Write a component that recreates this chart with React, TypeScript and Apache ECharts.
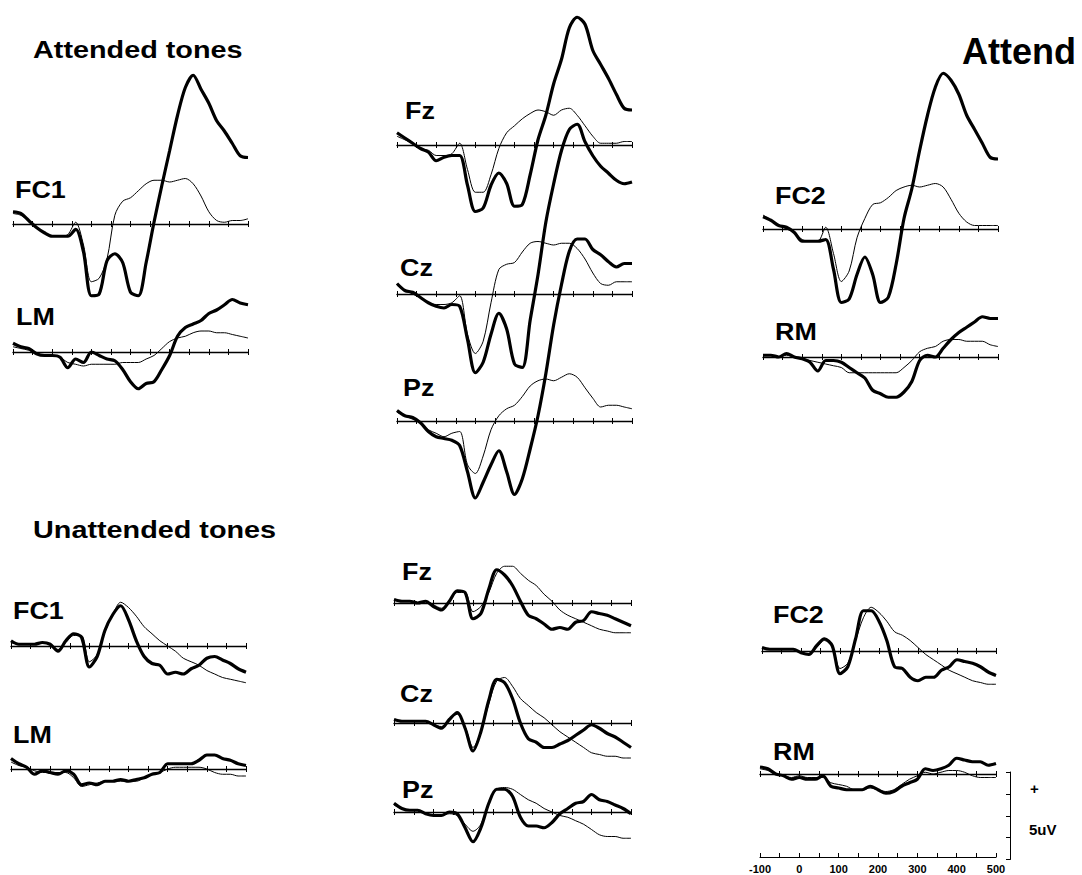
import React, { useEffect, useRef } from "react";
import * as echarts from "echarts";

// ---------- data (amplitudes in µV, positive up; time in ms) ----------
const TIMES = [-100, -80, -60, -40, -20, 0, 20, 40, 60, 80, 100, 120, 140, 160, 180, 200, 220, 240, 260, 280, 300, 320, 340, 360, 380, 400, 420, 440, 460, 480, 500];
const TIME_TICK_LABELS = ["-100", "0", "100", "200", "300", "400", "500"];
const CHANNELS_ATTENDED = ["FC1", "LM", "Fz", "Cz", "Pz", "FC2", "RM"];
const CHANNELS_UNATTENDED = ["FC1", "LM", "Fz", "Cz", "Pz", "FC2", "RM"];
const TITLE_ATTENDED = "Attended tones";
const TITLE_UNATTENDED = "Unattended tones";
const TITLE_RIGHT = "Attend";
const SCALE_PLUS = "+";
const SCALE_LABEL = "5uV";
const SCALE_UV = 5;

// Attended tones
const attFC1Thick = [0.7, 0.6, 0.2, -0.2, -0.5, -0.7, -0.7, -0.7, -0.3, -1.6, -4.1, -4.0, -2.1, -1.7, -2.2, -3.9, -4.1, -2.2, 0.1, 2.2, 4.2, 6.2, 7.8, 8.5, 7.7, 6.9, 5.9, 5.3, 4.6, 3.9, 3.8];
const attFC1Thin = [0.6, 0.5, 0.2, -0.2, -0.5, -0.7, -0.7, -0.6, 0.1, -1.2, -3.3, -3.1, -2.0, 0.5, 1.3, 1.5, 1.9, 2.3, 2.5, 2.5, 2.4, 2.5, 2.6, 2.3, 1.6, 0.7, 0.2, 0.1, 0.2, 0.2, 0.3];
const attLMThick = [0.5, 0.3, 0.2, -0.1, -0.2, -0.2, -0.3, -0.9, -0.4, -0.6, 0, -0.2, -0.4, -0.5, -1.0, -1.7, -2.1, -1.8, -1.7, -1.0, -0.2, 0.9, 1.4, 1.6, 1.8, 2.2, 2.4, 2.7, 3.0, 2.8, 2.7];
const attLMThin = [0.3, 0.2, 0.1, -0.1, -0.2, -0.2, -0.3, -0.6, -0.7, -0.8, -0.7, -0.7, -0.7, -0.7, -0.6, -0.6, -0.6, -0.4, -0.2, 0.2, 0.6, 0.8, 0.9, 1.1, 1.2, 1.2, 1.1, 1.1, 1.0, 0.9, 0.8];
const attFzThick = [0.7, 0.4, 0.1, -0.2, -0.4, -0.9, -0.7, -0.6, -0.6, -2.3, -3.8, -3.6, -2.3, -1.6, -2.2, -3.5, -3.4, -1.7, 0.3, 1.7, 3.5, 4.9, 6.7, 7.3, 6.9, 5.4, 4.6, 3.8, 2.9, 2.1, 2.0];
const attFzThin = [0.5, 0.3, 0.1, -0.2, -0.3, -0.6, -0.6, -0.5, 0.1, -1.4, -2.7, -2.7, -1.7, -0.2, 0.7, 1.1, 1.5, 1.8, 2.0, 1.9, 1.7, 2.0, 2.1, 1.7, 1.1, 0.5, 0.1, 0.1, 0.1, 0.2, 0.2];
const attCzThick = [0.6, 0.2, 0.1, -0.2, -0.5, -0.7, -0.8, -0.6, -0.7, -2.6, -4.5, -3.9, -2.3, -1.1, -2.0, -4.0, -4.2, -1.5, 1.1, 4.1, 6.3, 8.2, 9.4, 9.7, 8.7, 7.9, 7.3, 6.9, 6.5, 6.3, 6.4];
const attCzThin = [0.5, 0.2, 0, -0.2, -0.5, -0.6, -0.6, -0.5, -0.1, -2.3, -3.4, -2.7, -0.5, 1.4, 1.7, 1.8, 2.4, 2.9, 3.0, 2.9, 2.8, 2.9, 2.9, 2.6, 2.0, 1.2, 0.6, 0.5, 0.7, 0.7, 0.7];
const attPzThick = [0.6, 0.3, 0.2, -0.1, -0.6, -0.9, -1.0, -1.1, -1.4, -2.9, -4.4, -3.5, -2.5, -1.7, -2.9, -4.2, -3.3, -1.6, 0.3, 2.7, 5.5, 7.8, 9.7, 10.4, 10.4, 9.8, 9.5, 9.1, 8.8, 9.0, 9.0];
const attPzThin = [0.5, 0.3, 0.1, -0.1, -0.5, -0.7, -0.9, -0.7, -0.6, -2.5, -3.0, -2.0, -0.5, 0.3, 0.7, 0.9, 1.4, 2.0, 2.3, 2.4, 2.3, 2.5, 2.7, 2.5, 1.9, 1.3, 0.8, 0.9, 0.9, 0.8, 0.7];
const attFC2Thick = [0.7, 0.5, 0.2, 0.1, -0.2, -0.7, -0.7, -0.7, -0.6, -2.3, -4.2, -4.0, -2.6, -1.6, -2.6, -4.2, -3.9, -2.0, 0.6, 2.3, 4.5, 6.5, 8.1, 8.9, 8.5, 7.7, 6.5, 5.7, 4.9, 4.1, 4.0];
const attFC2Thin = [0.8, 0.5, 0.2, 0, -0.2, -0.6, -0.7, -0.7, 0.1, -1.4, -3.0, -2.4, -0.5, 0.6, 1.4, 1.5, 1.8, 2.2, 2.4, 2.5, 2.4, 2.5, 2.6, 2.4, 1.7, 0.9, 0.4, 0.2, 0.2, 0.2, 0.2];
const attRMThick = [0.1, 0.1, 0, 0.2, 0, -0.1, -0.3, -0.8, -0.2, -0.2, -0.3, -0.6, -0.9, -1.2, -1.9, -2.1, -2.3, -2.3, -2.0, -1.4, -0.2, 0.1, 0, 0.5, 1.0, 1.4, 1.7, 2.0, 2.3, 2.2, 2.2];
const attRMThin = [0.1, 0.1, 0, 0.1, 0, -0.1, -0.2, -0.3, -0.4, -0.5, -0.6, -0.9, -0.9, -0.9, -0.9, -0.9, -0.9, -0.9, -0.6, -0.2, 0.3, 0.5, 0.6, 0.9, 1.0, 1.0, 0.9, 0.9, 0.9, 0.7, 0.6];

// Unattended tones
const unFC1Thick = [0.3, 0.1, 0.1, 0.1, 0.2, 0.1, -0.3, 0.3, 0.7, 0.5, -1.2, -0.6, 0.9, 1.8, 2.3, 1.5, 0.3, -0.6, -1.0, -1.1, -1.6, -1.5, -1.6, -1.3, -1.1, -0.7, -0.6, -0.8, -1.0, -1.3, -1.5];
const unFC1Thin = [0.2, 0.1, 0.1, 0.1, 0.2, 0.1, -0.2, 0.2, 0.6, 0.6, -0.9, -0.5, 0.8, 1.8, 2.5, 2.2, 1.7, 1.1, 0.7, 0.3, 0, -0.3, -0.7, -0.9, -1.1, -1.4, -1.6, -1.8, -1.9, -2.0, -2.1];
const unLMThick = [0.6, 0.3, 0.1, -0.3, -0.1, -0.2, -0.3, -0.1, -0.3, -0.9, -0.8, -0.9, -0.7, -0.7, -0.6, -0.7, -0.6, -0.5, -0.3, -0.2, 0.3, 0.3, 0.3, 0.3, 0.5, 0.8, 0.8, 0.6, 0.5, 0.3, 0.2];
const unLMThin = [0.4, 0.2, 0.1, -0.1, -0.2, -0.2, -0.2, -0.2, -0.5, -1.0, -0.9, -0.8, -0.7, -0.7, -0.7, -0.7, -0.7, -0.5, -0.3, -0.2, 0, 0.1, 0.1, 0.1, 0.1, 0, -0.2, -0.3, -0.3, -0.4, -0.4];
const unFzThick = [0.2, 0.1, 0.1, 0, 0.1, -0.2, -0.4, 0.1, 0.7, 0.6, -0.9, -0.6, 0.8, 1.9, 1.6, 1.0, 0.1, -0.7, -0.9, -1.2, -1.5, -1.4, -1.5, -1.1, -1.0, -0.5, -0.6, -0.7, -0.9, -1.1, -1.3];
const unFzThin = [0.2, 0.1, 0.1, 0, 0.1, -0.1, -0.3, 0.1, 0.6, 0.6, -0.5, -0.2, 0.6, 1.7, 2.1, 2.1, 1.7, 1.3, 1.0, 0.5, 0.1, -0.4, -0.7, -0.9, -1.1, -1.3, -1.5, -1.6, -1.7, -1.7, -1.7];
const unCzThick = [0.2, 0.1, 0.1, 0.1, 0.1, -0.1, -0.3, 0.2, 0.6, -0.3, -1.6, -0.5, 1.3, 2.5, 2.3, 1.4, 0, -0.9, -1.1, -1.4, -1.4, -1.2, -1.0, -0.7, -0.4, -0.1, -0.3, -0.6, -0.8, -1.1, -1.4];
const unCzThin = [0.2, 0.1, 0.1, 0.1, 0.1, -0.1, -0.2, 0.2, 0.5, -0.2, -1.4, -0.5, 1.1, 2.4, 2.6, 2.1, 1.4, 1.0, 0.6, 0.3, -0.1, -0.5, -0.8, -1.1, -1.4, -1.7, -1.8, -1.9, -1.9, -2.0, -2.0];
const unPzThick = [0.5, 0.2, 0.1, 0.1, -0.1, -0.2, -0.2, 0, -0.1, -0.9, -1.7, -0.9, 0.5, 1.3, 1.3, 0.9, -0.3, -0.8, -0.8, -0.9, -0.6, -0.1, 0.2, 0.5, 0.6, 1.0, 0.7, 0.6, 0.4, 0.2, -0.1];
const unPzThin = [0.4, 0.2, 0.1, 0.1, -0.1, -0.2, -0.2, -0.1, -0.2, -0.7, -1.1, -0.7, 0.5, 1.3, 1.4, 1.3, 1.0, 0.7, 0.5, 0.2, 0, -0.2, -0.3, -0.5, -0.7, -1.0, -1.3, -1.4, -1.4, -1.5, -1.5];
const unFC2Thick = [0.2, 0.1, 0.1, 0.1, 0.1, -0.1, -0.2, 0.3, 0.7, 0.3, -1.3, -0.9, 0.7, 2.3, 2.3, 1.7, 0.6, -0.9, -1.0, -1.5, -1.7, -1.5, -1.5, -1.1, -0.9, -0.5, -0.6, -0.7, -0.9, -1.2, -1.4];
const unFC2Thin = [0.2, 0.1, 0.1, 0.1, 0.1, -0.1, -0.2, 0.2, 0.6, 0.3, -1.0, -0.7, 0.6, 1.9, 2.5, 2.2, 1.7, 1.1, 0.9, 0.6, 0.2, -0.2, -0.5, -0.8, -1.1, -1.3, -1.5, -1.7, -1.8, -1.9, -1.9];
const unRMThick = [0.4, 0.3, 0, -0.1, -0.3, -0.2, -0.3, -0.3, -0.1, -0.7, -0.8, -0.9, -0.9, -0.9, -0.7, -0.9, -1.1, -1.0, -0.7, -0.5, -0.3, 0.3, 0.2, 0.3, 0.5, 0.9, 0.8, 0.7, 0.7, 0.5, 0.6];
const unRMThin = [0.3, 0.2, 0, -0.1, -0.2, -0.1, -0.2, -0.2, -0.2, -0.5, -0.6, -0.7, -0.9, -0.9, -0.8, -0.9, -1.0, -0.9, -0.6, -0.3, -0.1, 0.1, 0, 0.1, 0.2, 0.2, 0.1, -0.1, -0.2, -0.2, -0.2];

// ---------- layout (pixels) ----------
const CHART_W = 1082;
const CHART_H = 875;
const PX_PER_UV = 17.5;
const Y_MIN = -6;
const Y_MAX = 11;

type Panel = { label: string; left: number; width: number; base: number; lx: number; ly: number; thick: number[]; thin: number[] };

const PANELS: Panel[] = [
  { label: CHANNELS_ATTENDED[0], left: 13, width: 235, base: 224, lx: 15, ly: 190, thick: attFC1Thick, thin: attFC1Thin },
  { label: CHANNELS_ATTENDED[1], left: 13, width: 235, base: 352, lx: 16, ly: 317, thick: attLMThick, thin: attLMThin },
  { label: CHANNELS_ATTENDED[2], left: 397, width: 235, base: 145, lx: 405, ly: 111, thick: attFzThick, thin: attFzThin },
  { label: CHANNELS_ATTENDED[3], left: 397, width: 235, base: 294, lx: 400, ly: 268, thick: attCzThick, thin: attCzThin },
  { label: CHANNELS_ATTENDED[4], left: 397, width: 235, base: 421, lx: 403, ly: 388, thick: attPzThick, thin: attPzThin },
  { label: CHANNELS_ATTENDED[5], left: 763, width: 235, base: 229, lx: 775, ly: 196, thick: attFC2Thick, thin: attFC2Thin },
  { label: CHANNELS_ATTENDED[6], left: 763, width: 235, base: 357, lx: 775, ly: 332, thick: attRMThick, thin: attRMThin },
  { label: CHANNELS_UNATTENDED[0], left: 11, width: 235, base: 646, lx: 13, ly: 611, thick: unFC1Thick, thin: unFC1Thin },
  { label: CHANNELS_UNATTENDED[1], left: 11, width: 235, base: 769, lx: 13, ly: 735, thick: unLMThick, thin: unLMThin },
  { label: CHANNELS_UNATTENDED[2], left: 394, width: 237, base: 603, lx: 402, ly: 572, thick: unFzThick, thin: unFzThin },
  { label: CHANNELS_UNATTENDED[3], left: 394, width: 237, base: 723, lx: 400, ly: 694, thick: unCzThick, thin: unCzThin },
  { label: CHANNELS_UNATTENDED[4], left: 394, width: 237, base: 812, lx: 402, ly: 790, thick: unPzThick, thin: unPzThin },
  { label: CHANNELS_UNATTENDED[5], left: 762, width: 234, base: 651, lx: 773, ly: 615, thick: unFC2Thick, thin: unFC2Thin },
  { label: CHANNELS_UNATTENDED[6], left: 760, width: 236, base: 774, lx: 773, ly: 752, thick: unRMThick, thin: unRMThin },
];

const FONT = '"Liberation Sans", Arial, Helvetica, sans-serif';

function buildOption() {
  const grid: any[] = [];
  const xAxis: any[] = [];
  const yAxis: any[] = [];
  const series: any[] = [];
  const graphic: any[] = [];

  PANELS.forEach((p, i) => {
    // keep every grid inside the chart box so the scale stays identical
    const yMax = Math.min(Y_MAX, Math.floor((p.base / PX_PER_UV) * 10) / 10);
    const yMin = Math.max(Y_MIN, -Math.floor(((CHART_H - p.base) / PX_PER_UV) * 10) / 10);
    grid.push({
      left: p.left,
      width: p.width,
      top: p.base - yMax * PX_PER_UV,
      height: (yMax - yMin) * PX_PER_UV,
      containLabel: false,
    });
    yAxis.push({ type: "value", gridIndex: i, min: yMin, max: yMax, show: false });
    const baseX = {
      type: "value",
      gridIndex: i,
      min: -100,
      max: 500,
      interval: 50,
      position: "bottom",
      axisLabel: { show: false },
      splitLine: { show: false },
    };
    xAxis.push({
      ...baseX,
      axisLine: { show: true, onZero: true, onZeroAxisIndex: i, lineStyle: { color: "#000", width: 1.4 } },
      axisTick: { show: true, inside: true, length: 3, lineStyle: { color: "#000", width: 1 } },
    });
    xAxis.push({
      ...baseX,
      axisLine: { show: false, onZero: true, onZeroAxisIndex: i },
      axisTick: { show: true, inside: false, length: 3, lineStyle: { color: "#000", width: 1 } },
    });
    const xi = 2 * i;
    series.push({
      type: "line",
      xAxisIndex: xi,
      yAxisIndex: i,
      data: TIMES.map((t, k) => [t, p.thin[k]]),
      showSymbol: false,
      smooth: 0.3,
      lineStyle: { color: "#000", width: 1 },
      z: 3,
    });
    series.push({
      type: "line",
      xAxisIndex: xi,
      yAxisIndex: i,
      data: TIMES.map((t, k) => [t, p.thick[k]]),
      showSymbol: false,
      smooth: 0.3,
      lineStyle: { color: "#000", width: 3.2 },
      z: 4,
    });
    graphic.push({
      type: "text",
      x: p.lx,
      y: p.ly,
      scaleX: 1.12,
      style: { text: p.label, font: `bold 24px ${FONT}`, fill: "#000", textVerticalAlign: "middle", verticalAlign: "middle" },
    });
  });

  // time scale axis (bottom right)
  const gi = PANELS.length;
  grid.push({ left: 760, width: 236, top: 820, height: 37 });
  xAxis.push({
    type: "value",
    gridIndex: gi,
    min: -100,
    max: 500,
    interval: 50,
    position: "bottom",
    axisLine: { show: true, onZero: false, lineStyle: { color: "#000", width: 1.2 } },
    axisTick: { show: true, inside: true, length: 4, lineStyle: { color: "#000", width: 1 } },
    axisLabel: {
      show: true,
      margin: 6,
      color: "#000",
      fontWeight: "bold",
      fontSize: 11,
      fontFamily: FONT,
      formatter: (v: number) => (TIME_TICK_LABELS.includes(String(v)) ? String(v) : ""),
    },
    splitLine: { show: false },
  });
  yAxis.push({ type: "value", gridIndex: gi, min: 0, max: 1, show: false });

  // amplitude scale bar
  const si = gi + 1;
  grid.push({ left: 1010, width: 2, top: 772, height: SCALE_UV * PX_PER_UV });
  xAxis.push({ type: "value", gridIndex: si, min: 0, max: 1, show: false });
  yAxis.push({
    type: "value",
    gridIndex: si,
    min: 0,
    max: SCALE_UV,
    interval: 1.25,
    position: "left",
    axisLine: { show: true, onZero: false, lineStyle: { color: "#000", width: 1 } },
    axisTick: { show: true, inside: false, length: 4, lineStyle: { color: "#000", width: 1 } },
    axisLabel: { show: false },
    splitLine: { show: false },
  });

  // titles and scale texts
  graphic.push({
    type: "text", x: 33, y: 50, scaleX: 1.2,
    style: { text: TITLE_ATTENDED, font: `bold 24px ${FONT}`, fill: "#000", textVerticalAlign: "middle", verticalAlign: "middle" },
  });
  graphic.push({
    type: "text", x: 33, y: 530, scaleX: 1.2,
    style: { text: TITLE_UNATTENDED, font: `bold 24px ${FONT}`, fill: "#000", textVerticalAlign: "middle", verticalAlign: "middle" },
  });
  graphic.push({
    type: "text", x: 962, y: 51,
    style: { text: TITLE_RIGHT, font: `bold 36px ${FONT}`, fill: "#000", textVerticalAlign: "middle", verticalAlign: "middle" },
  });
  graphic.push({
    type: "text", x: 1030, y: 788,
    style: { text: SCALE_PLUS, font: `bold 15px ${FONT}`, fill: "#000", textVerticalAlign: "middle", verticalAlign: "middle" },
  });
  graphic.push({
    type: "text", x: 1029, y: 829,
    style: { text: SCALE_LABEL, font: `bold 15px ${FONT}`, fill: "#000", textVerticalAlign: "middle", verticalAlign: "middle" },
  });

  return {
    animation: false,
    backgroundColor: "#fff",
    grid,
    xAxis,
    yAxis,
    series,
    graphic,
  };
}

export default function App() {
  const ref = useRef<HTMLDivElement>(null);
  useEffect(() => {
    if (!ref.current) return;
    const chart = echarts.init(ref.current, undefined, { renderer: "svg" });
    chart.setOption(buildOption() as any);
    return () => chart.dispose();
  }, []);
  return (
    <div
      ref={ref}
      style={{ position: "absolute", left: 0, top: 0, width: CHART_W, height: CHART_H, background: "#fff" }}
    />
  );
}
